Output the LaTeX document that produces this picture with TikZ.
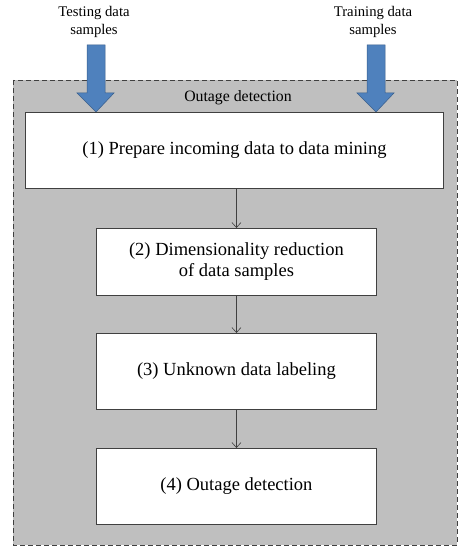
\documentclass[tikz,border=0pt]{standalone}
\usepackage{fontspec}
\setmainfont{Liberation Serif}
\usetikzlibrary{arrows.meta}
\definecolor{panelgray}{RGB}{191,191,191}
\definecolor{flowblue}{RGB}{79,129,189}
\definecolor{flowedge}{RGB}{56,93,138}
\definecolor{boxedge}{RGB}{64,64,64}
\tikzset{
  stepbox/.style={draw=boxedge, line width=0.9pt, fill=white, anchor=north west, inner sep=0pt,
    font=\fontsize{18.5}{21}\selectfont, align=center},
  flow/.style={draw=boxedge, line width=0.6pt, -{Straight Barb[length=5pt,width=9pt]}},
  inlabel/.style={font=\fontsize{14.7}{18.5}\selectfont, align=center},
  bigarrow/.style={fill=flowblue, draw=flowedge, line width=0.5pt}
}
\begin{document}
\begin{tikzpicture}[x=1pt,y=-1pt]
  \useasboundingbox (0,0) rectangle (459,548);
  % dashed panel
  \draw[fill=panelgray, draw=boxedge, dashed, dash pattern=on 5pt off 3pt, line width=0.8pt]
    (13,80) rectangle (457,545);
  \node[inlabel, font=\fontsize{15.8}{18}\selectfont] (title) at (238,98) {Outage detection};
  % input labels
  \node[inlabel] (test) at (94,22) {Testing data\\samples};
  \node[inlabel] (train) at (373,22) {Training data\\samples};
  % block arrows
  \draw[bigarrow] (87,45) -- (105,45) -- (105,93) -- (114,93) -- (96,112) -- (77,93) -- (87,93) -- cycle;
  \draw[bigarrow] (367,45) -- (385,45) -- (385,93) -- (394,93) -- (376,112) -- (357,93) -- (367,93) -- cycle;
  % processing steps
  \node[stepbox, minimum width=418pt, minimum height=76pt] (s1) at (25,112)
    {(1) Prepare incoming data to data mining};
  \node[stepbox, minimum width=280pt, minimum height=67pt] (s2) at (96,228)
    {(2) Dimensionality reduction\\of data samples};
  \node[stepbox, minimum width=280pt, minimum height=76pt] (s3) at (96,333)
    {(3) Unknown data labeling};
  \node[stepbox, minimum width=280pt, minimum height=76pt] (s4) at (96,448)
    {(4) Outage detection};
  % connectors
  \draw[flow] (s1.south -| s2.north) -- (s2.north);
  \draw[flow] (s2.south) -- (s3.north);
  \draw[flow] (s3.south) -- (s4.north);
\end{tikzpicture}
\end{document}
